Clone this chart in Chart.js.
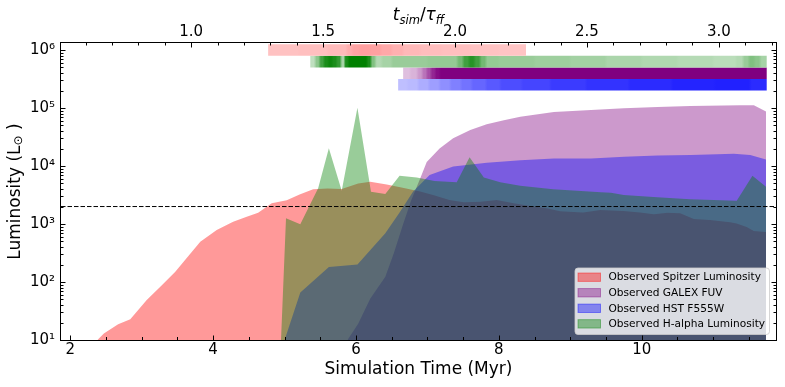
<!DOCTYPE html>
<html>
<head>
<meta charset="utf-8">
<title>Luminosity vs simulation time</title>
<script src="https://cdn.jsdelivr.net/npm/chart.js@4.4.1/dist/chart.umd.min.js"></script>
<style>
html,body{margin:0;padding:0;background:#ffffff;overflow:hidden;}
canvas{display:block;}
</style>
</head>
<body>
<canvas id="chart" width="785" height="387"></canvas>
<script>
// ---------------- data ----------------
const spitzerT = [2.38, 2.47, 2.67, 2.84, 3.07, 3.26, 3.47, 3.63, 3.82, 4.05, 4.28, 4.47, 4.63, 4.82, 5.03, 5.21, 5.40, 5.60, 5.80, 6.03, 6.20, 6.43, 6.62, 6.90, 7.08, 7.31, 7.51, 7.74, 7.97, 8.21, 8.44, 8.67, 8.86, 9.18, 9.42, 9.75, 9.98, 10.17, 10.36, 10.54, 10.73, 10.96, 11.24, 11.33, 11.47, 11.57, 11.74];
const spitzerL = [10, 13, 18.6, 22.7, 49, 83, 150, 259, 495, 789, 1097, 1337, 1567, 2276, 2572, 3236, 3960, 4100, 4000, 5000, 5350, 4780, 4300, 3630, 3160, 2600, 2370, 2430, 2600, 2276, 2040, 1862, 1660, 1585, 1740, 1675, 1585, 1470, 1567, 1528, 1220, 1175, 1070, 1023, 890, 760, 725];

const galexT = [5.88, 6.03, 6.20, 6.41, 6.53, 6.66, 6.77, 6.90, 6.99, 7.17, 7.36, 7.60, 7.83, 8.07, 8.30, 8.77, 9.29, 9.75, 10.22, 10.68, 11.38, 11.57, 11.74];
const galexL = [10, 19, 52, 123, 316, 1000, 2510, 6170, 11750, 19950, 30200, 41700, 52500, 61700, 70800, 85100, 92500, 98900, 104000, 108000, 112000, 111000, 87100];

const hstT = [5.00, 5.22, 5.62, 6.02, 6.41, 6.61, 6.80, 7.03, 7.36, 7.83, 8.30, 8.77, 9.29, 9.75, 10.22, 10.68, 11.29, 11.52, 11.74];
const hstL = [10, 66, 182, 200, 692, 1585, 3630, 7000, 9770, 11400, 12600, 13500, 13500, 14450, 15100, 15500, 16200, 15500, 13000];

const halphaT = [4.95, 5.02, 5.22, 5.47, 5.62, 5.80, 6.02, 6.21, 6.41, 6.61, 6.85, 7.10, 7.41, 7.59, 7.79, 8.02, 8.30, 8.76, 9.43, 9.57, 9.75, 10.22, 10.68, 11.33, 11.55, 11.74];
const halphaL = [10, 1253, 990, 4120, 20200, 3750, 101000, 3600, 3290, 6760, 6310, 5500, 5250, 14100, 6310, 5250, 4570, 3980, 3520, 3470, 3160, 2880, 2670, 2510, 6760, 4370];

const thresholdL = 2000;

const seriesNames = ['Observed Spitzer Luminosity', 'Observed GALEX FUV', 'Observed HST F555W', 'Observed H-alpha Luminosity'];

// detection strips: breakpoints (Myr) and shade strength of each piece
const spitzerStripT = [4.77, 5.2, 5.6, 5.87, 5.95, 6.05, 6.2, 6.35, 6.5, 6.66, 6.9, 7.2, 7.6, 8.0, 8.38];
const spitzerStripA = [0.24, 0.25, 0.27, 0.32, 0.36, 0.38, 0.37, 0.34, 0.31, 0.28, 0.26, 0.25, 0.24, 0.23];
const halphaStripT = [5.36, 5.43, 5.49, 5.55, 5.61, 5.67, 5.73, 5.79, 5.84, 5.89, 6.16, 6.21, 6.27, 6.36, 6.5, 7.0, 7.42, 7.5, 7.58, 7.66, 7.74, 7.82, 8.0, 8.5, 9.0, 9.5, 10.0, 10.5, 11.0, 11.32, 11.42, 11.5, 11.58, 11.66, 11.75];
const halphaStripA = [0.25, 0.45, 0.75, 0.9, 0.95, 0.9, 0.8, 0.35, 0.9, 1.0, 0.9, 0.5, 0.3, 0.35, 0.4, 0.42, 0.55, 0.75, 0.85, 0.75, 0.55, 0.42, 0.4, 0.38, 0.36, 0.33, 0.31, 0.29, 0.27, 0.3, 0.4, 0.5, 0.45, 0.35];
const galexStripT = [6.66, 6.76, 6.86, 6.93, 6.99, 7.05, 7.11, 7.17, 11.75];
const galexStripA = [0.25, 0.3, 0.4, 0.55, 0.7, 0.85, 0.95, 1.0];
const hstStripT = [6.59, 6.72, 6.87, 7.02, 7.17, 7.32, 7.47, 7.62, 7.82, 8.02, 8.32, 8.72, 9.22, 9.82, 10.42, 11.02, 11.52, 11.75];
const hstStripA = [0.25, 0.27, 0.32, 0.38, 0.44, 0.5, 0.55, 0.6, 0.65, 0.7, 0.73, 0.77, 0.8, 0.83, 0.86, 0.87, 0.83];
// strip levels (luminosity at strip centre)
const stripLevels = [1e6, 6.31e5, 3.98e5, 2.51e5];

// ticks
const xTicks = [2, 4, 6, 8, 10];
const ratioTicks = [1.0, 1.5, 2.0, 2.5, 3.0];
const yTicks = [1e1, 1e2, 1e3, 1e4, 1e5, 1e6];

// ---------------- styling ----------------
const X_MIN = 1.87, X_MAX = 11.88;
const R_MIN = 0.5064, R_MAX = 3.2167;
const Y_MIN = 10, Y_MAX = 1.32e6;
const FONT = '"DejaVu Sans"';
const baseRGB = { red: [255, 0, 0], purple: [128, 0, 128], blue: [0, 0, 255], green: [0, 128, 0] };
const fillCol = c => `rgba(${baseRGB[c][0]},${baseRGB[c][1]},${baseRGB[c][2]},0.4)`;
const shade = (c, a) => {
  const b = baseRGB[c];
  return `rgb(${Math.round(255 + (b[0] - 255) * a)},${Math.round(255 + (b[1] - 255) * a)},${Math.round(255 + (b[2] - 255) * a)})`;
};
const legendColors = [fillCol('red'), fillCol('purple'), fillCol('blue'), fillCol('green')];
const SUP = { 1: '¹', 2: '²', 3: '³', 4: '⁴', 5: '⁵', 6: '⁶' };

function pts(T, L) { return T.map((t, i) => ({ x: t, y: L[i] })); }

function areaDataset(label, T, L, c, order) {
  return {
    label, data: pts(T, L), order,
    fill: 'start', backgroundColor: fillCol(c),
    borderColor: 'rgba(0,0,0,0)', borderWidth: 0,
    pointRadius: 0, pointHoverRadius: 0, tension: 0
  };
}

// horizontal shading along a strip, positioned with the x scale
function stripGradient(chart, T, cols) {
  const xs = chart.scales && chart.scales.x;
  if (!xs || !chart.chartArea) return cols[0];
  const x0 = xs.getPixelForValue(T[0]);
  const x1 = xs.getPixelForValue(T[T.length - 1]);
  const span = x1 - x0;
  const g = chart.ctx.createLinearGradient(x0, 0, x1, 0);
  let last = 0;
  const add = (px, col) => {
    let o = (px - x0) / span;
    o = Math.min(1, Math.max(last, o));
    g.addColorStop(o, col);
    last = o;
  };
  g.addColorStop(0, cols[0]);
  for (let i = 0; i < cols.length; i++) {
    const a = xs.getPixelForValue(T[i]);
    const b = xs.getPixelForValue(T[i + 1]);
    const inset = Math.min(1.5, (b - a) * 0.3);
    add(a + inset, cols[i]);
    add(b - inset, cols[i]);
  }
  g.addColorStop(1, cols[cols.length - 1]);
  return g;
}

function stripDataset(label, T, A, level, c) {
  const cols = A.map(a => shade(c, a));
  return {
    label, data: T.map(t => ({ x: t, y: level })), order: 1,
    fill: false, borderWidth: 11.6,
    borderColor: ctx => stripGradient(ctx.chart, T, cols),
    borderCapStyle: 'butt', borderJoinStyle: 'miter',
    pointRadius: 0, pointHoverRadius: 0, tension: 0
  };
}

const decor = {
  id: 'decor',
  afterDatasetsDraw(chart) {
    const { ctx, chartArea: a, scales } = chart;
    ctx.save();
    ctx.strokeStyle = '#000';
    ctx.lineWidth = 1;
    const line = (x1, y1, x2, y2) => { ctx.beginPath(); ctx.moveTo(x1, y1); ctx.lineTo(x2, y2); ctx.stroke(); };
    // y ticks (left and right), log majors + minors
    const ys = scales.y;
    for (let d = 1; d <= 6; d++) {
      for (let m = 1; m <= 9; m++) {
        const v = m * Math.pow(10, d);
        if (v < Y_MIN || v > Y_MAX) continue;
        const p = Math.round(ys.getPixelForValue(v)) + 0.5;
        const len = m === 1 ? 4.5 : 2.5;
        line(a.left, p, a.left + len, p);
        line(a.right, p, a.right - len, p);
      }
    }
    // bottom ticks
    const xs = scales.x;
    for (let v = 2; v <= 11.51; v += 0.5) {
      const p = Math.round(xs.getPixelForValue(v)) + 0.5;
      const len = Math.abs(v % 2) < 1e-6 ? 4.5 : 3;
      line(p, a.bottom, p, a.bottom - len);
    }
    // top ticks
    const rs = scales.x2;
    for (let k = 6; k <= 32; k++) {
      const v = k / 10;
      const p = Math.round(rs.getPixelForValue(v)) + 0.5;
      const len = k % 5 === 0 ? 4.5 : 2.5;
      line(p, a.top, p, a.top + len);
    }
    ctx.strokeRect(a.left - 0.5, a.top - 0.5, a.right - a.left + 1, a.bottom - a.top + 1);
    ctx.restore();
  },
  afterDraw(chart) {
    const { ctx, chartArea: a } = chart;
    ctx.save();
    // top axis title t_sim / tau_ff
    const parts = [
      { t: 't', f: `italic 17px ${FONT}`, dy: 0 },
      { t: 'sim', f: `italic 11.5px ${FONT}`, dy: 4 },
      { t: '/', f: `17px ${FONT}`, dy: 0 },
      { t: 'τ', f: `italic 17px ${FONT}`, dy: 0 },
      { t: 'ff', f: `italic 11.5px ${FONT}`, dy: 4 }
    ];
    let w = 0;
    parts.forEach(p => { ctx.font = p.f; p.w = ctx.measureText(p.t).width; w += p.w; });
    let x = (a.left + a.right) / 2 - w / 2;
    ctx.fillStyle = '#000';
    ctx.textBaseline = 'alphabetic';
    ctx.textAlign = 'left';
    parts.forEach(p => { ctx.font = p.f; ctx.fillText(p.t, x, 20 + p.dy); x += p.w; });

    // y axis title with subscript sun symbol
    ctx.save();
    ctx.translate(16, (a.top + a.bottom) / 2);
    ctx.rotate(-Math.PI / 2);
    const yparts = [
      { t: 'Luminosity (L', f: `17px ${FONT}`, dy: 0 },
      { t: '⊙', f: `12px ${FONT}`, dy: 3 },
      { t: ' )', f: `17px ${FONT}`, dy: 0 }
    ];
    let yw = 0;
    yparts.forEach(p => { ctx.font = p.f; p.w = ctx.measureText(p.t).width; yw += p.w; });
    let yx = -yw / 2;
    ctx.textBaseline = 'middle';
    yparts.forEach(p => { ctx.font = p.f; ctx.fillText(p.t, yx, p.dy); yx += p.w; });
    ctx.restore();

    // legend (inside, lower right)
    const bw = 194.5, bh = 66.5;
    const bx = a.right - 6.5 - bw, by = a.bottom - 5.5 - bh;
    const r = 3;
    ctx.beginPath();
    ctx.moveTo(bx + r, by);
    ctx.arcTo(bx + bw, by, bx + bw, by + bh, r);
    ctx.arcTo(bx + bw, by + bh, bx, by + bh, r);
    ctx.arcTo(bx, by + bh, bx, by, r);
    ctx.arcTo(bx, by, bx + bw, by, r);
    ctx.closePath();
    ctx.fillStyle = 'rgba(255,255,255,0.8)';
    ctx.fill();
    ctx.strokeStyle = 'rgba(204,204,204,0.8)';
    ctx.lineWidth = 1;
    ctx.stroke();
    ctx.font = `10.6px ${FONT}`;
    ctx.textBaseline = 'middle';
    seriesNames.forEach((name, i) => {
      const cy = by + 9.2 + i * 15.55;
      ctx.fillStyle = legendColors[i];
      ctx.fillRect(bx + 3, cy - 4.2, 22.5, 8.4);
      ctx.strokeStyle = legendColors[i];
      ctx.strokeRect(bx + 3, cy - 4.2, 22.5, 8.4);
      ctx.fillStyle = '#000';
      ctx.fillText(name, bx + 33.5, cy + 0.5);
    });
    ctx.restore();
  }
};

Chart.defaults.font.family = FONT;
Chart.defaults.color = '#000';

new Chart(document.getElementById('chart'), {
  type: 'line',
  data: {
    datasets: [
      areaDataset(seriesNames[0], spitzerT, spitzerL, 'red', 10),
      areaDataset(seriesNames[1], galexT, galexL, 'purple', 9),
      areaDataset(seriesNames[2], hstT, hstL, 'blue', 8),
      areaDataset(seriesNames[3], halphaT, halphaL, 'green', 7),
      {
        label: 'threshold', data: [{ x: X_MIN, y: thresholdL }, { x: X_MAX, y: thresholdL }], order: 0,
        fill: false, borderColor: '#000', borderWidth: 1, borderDash: [4.5, 2],
        pointRadius: 0, pointHoverRadius: 0
      },
      stripDataset('Spitzer strip', spitzerStripT, spitzerStripA, stripLevels[0], 'red'),
      stripDataset('H-alpha strip', halphaStripT, halphaStripA, stripLevels[1], 'green'),
      stripDataset('GALEX strip', galexStripT, galexStripA, stripLevels[2], 'purple'),
      stripDataset('HST strip', hstStripT, hstStripA, stripLevels[3], 'blue')
    ]
  },
  options: {
    responsive: false,
    animation: false,
    devicePixelRatio: 1,
    events: [],
    layout: { padding: { left: 0, right: 9, top: 0, bottom: 0 } },
    plugins: { legend: { display: false }, tooltip: { enabled: false } },
    scales: {
      x: {
        type: 'linear', position: 'bottom', min: X_MIN, max: X_MAX,
        afterBuildTicks: s => { s.ticks = xTicks.map(v => ({ value: v })); },
        afterFit: s => { s.height = 47; },
        grid: { display: false, drawTicks: false }, border: { display: false },
        ticks: { font: { size: 15 }, color: '#000', padding: 1.5, maxRotation: 0, autoSkip: false, callback: v => String(v) },
        title: { display: true, text: 'Simulation Time (Myr)', font: { size: 17 }, color: '#000', padding: { top: 0, bottom: 7 } }
      },
      x2: {
        type: 'linear', position: 'top', min: R_MIN, max: R_MAX,
        afterBuildTicks: s => { s.ticks = ratioTicks.map(v => ({ value: v })); },
        afterFit: s => { s.height = 43; },
        grid: { display: false, drawTicks: false }, border: { display: false },
        ticks: { font: { size: 15 }, color: '#000', padding: 2, maxRotation: 0, autoSkip: false, callback: v => v.toFixed(1) }
      },
      y: {
        type: 'logarithmic', position: 'left', min: Y_MIN, max: Y_MAX,
        afterBuildTicks: s => { s.ticks = yTicks.map(v => ({ value: v })); },
        afterFit: s => { s.width = 61; },
        grid: { display: false, drawTicks: false }, border: { display: false },
        ticks: { font: { size: 15 }, color: '#000', padding: 6, autoSkip: false, callback: v => '10' + SUP[Math.round(Math.log10(v))] }
      }
    }
  },
  plugins: [decor]
});
</script>
</body>
</html>
